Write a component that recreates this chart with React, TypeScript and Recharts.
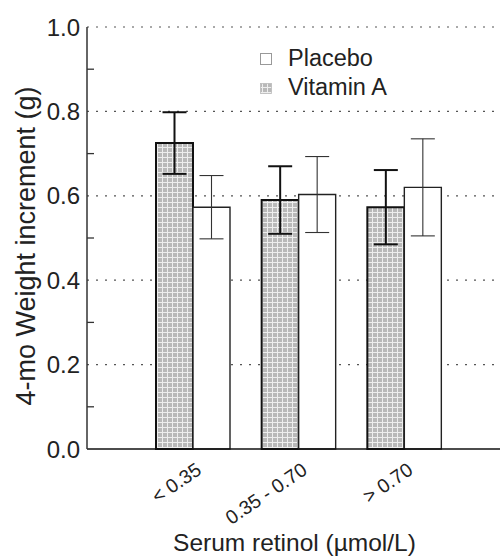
import { BarChart, Bar, XAxis, YAxis, CartesianGrid, ErrorBar, Legend, Label } from 'recharts';

const categories = ['< 0.35', '0.35 - 0.70', '> 0.70'];
const vitaminA = [0.725, 0.59, 0.573];
const vitaminAErr = [0.073, 0.08, 0.088];
const placebo = [0.573, 0.603, 0.62];
const placeboErr = [0.075, 0.09, 0.115];
const yTicks = [0, 0.1, 0.2, 0.3, 0.4, 0.5, 0.6, 0.7, 0.8, 0.9, 1.0];
const gridValues = [0.2, 0.4, 0.6, 0.8, 1.0];

const data = categories.map((c, i) => ({
  group: c,
  vitA: vitaminA[i],
  vitAErr: vitaminAErr[i],
  placebo: placebo[i],
  placeboErr: placeboErr[i],
}));

const FONT = '"Liberation Sans", Arial, Helvetica, sans-serif';
const W = 500;
const H = 557;
const AXIS_X = 87;
const PLOT_TOP = 27;
const X_AXIS_H = 108;
const PLOT_BOTTOM = H - X_AXIS_H;

const YTick = (props: any) => {
  const { y, payload } = props;
  const v = payload.value as number;
  const major = Math.round(v * 10) % 2 === 0;
  if (major) {
    return (
      <text x={AXIS_X - 7} y={y} dy="0.36em" textAnchor="end" fontSize={24} fill="#222" fontFamily={FONT}>
        {v.toFixed(1)}
      </text>
    );
  }
  return <line x1={AXIS_X} x2={AXIS_X + 7} y1={y} y2={y} stroke="#333" strokeWidth={1.3} />;
};

const XTick = (props: any) => {
  const { x, payload } = props;
  const tx = x + 10;
  const ty = PLOT_BOTTOM + 24;
  return (
    <text
      x={tx}
      y={ty}
      textAnchor="end"
      fontSize={19.5}
      fill="#222"
      fontFamily={FONT}
      transform={`rotate(-34, ${tx}, ${ty})`}
    >
      {payload.value}
    </text>
  );
};

const LegendBox = () => (
  <svg width={200} height={70} style={{ overflow: 'visible' }}>
    <rect x={5.5} y={13.5} width={11} height={11} fill="#fff" stroke="#999" strokeWidth={1} />
    <text x={33} y={25.5} fontSize={23.5} fill="#222" fontFamily={FONT}>Placebo</text>
    <rect x={5.5} y={43.5} width={11} height={10} fill="url(#stipple)" stroke="#bbb" strokeWidth={0.8} />
    <text x={33} y={55} fontSize={23.5} fill="#222" fontFamily={FONT}>Vitamin A</text>
  </svg>
);

export default function App() {
  return (
    <div style={{ width: W, height: H, background: '#fff' }}>
      <style>{`body{margin:0}`}</style>
      <svg width={0} height={0} style={{ position: 'absolute' }}>
        <defs>
          <pattern id="stipple" width={5} height={5} patternUnits="userSpaceOnUse">
            <rect x={0} y={0} width={5} height={5} fill="#b9b9b9" />
            <rect x={2} y={0} width={1} height={5} fill="#eeeeee" />
            <rect x={0} y={2} width={5} height={1} fill="#eeeeee" />
          </pattern>
        </defs>
      </svg>
      <BarChart
        width={W}
        height={H}
        data={data}
        margin={{ top: PLOT_TOP, right: 0, bottom: 0, left: 0 }}
        barGap={0}
        barSize={37}
      >
        <CartesianGrid
          vertical={false}
          horizontalValues={gridValues}
          stroke="#555"
          strokeWidth={1.2}
          strokeDasharray="2 7"
        />
        <XAxis
          dataKey="group"
          height={X_AXIS_H}
          padding={{ left: 53, right: 43 }}
          tickLine={false}
          axisLine={{ stroke: '#111', strokeWidth: 1.6 }}
          tick={<XTick />}
          interval={0}
        >
          <Label
            content={() => (
              <text x={294.5} y={551} textAnchor="middle" fontSize={24.5} fill="#222" fontFamily={FONT}>
                Serum retinol (µmol/L)
              </text>
            )}
          />
        </XAxis>
        <YAxis
          width={AXIS_X}
          domain={[0, 1]}
          ticks={yTicks}
          interval={0}
          tickLine={false}
          axisLine={{ stroke: '#333', strokeWidth: 1.5 }}
          tick={<YTick />}
        >
          <Label
            content={() => (
              <text
                x={0}
                y={0}
                textAnchor="middle"
                fontSize={27}
                fill="#222"
                fontFamily={FONT}
                transform="translate(35, 246) rotate(-90)"
              >
                4-mo Weight increment (g)
              </text>
            )}
          />
        </YAxis>
        <Legend
          layout="horizontal"
          verticalAlign="middle"
          align="center"
          wrapperStyle={{ position: 'absolute', left: 255, top: 40, width: 200 }}
          content={() => <LegendBox />}
        />
        <Bar dataKey="vitA" name="Vitamin A" fill="url(#stipple)" stroke="#111" strokeWidth={2} isAnimationActive={false}>
          <ErrorBar dataKey="vitAErr" width={12} stroke="#111" strokeWidth={2} />
        </Bar>
        <Bar dataKey="placebo" name="Placebo" fill="#fff" stroke="#222" strokeWidth={1.4} isAnimationActive={false}>
          <ErrorBar dataKey="placeboErr" width={12} stroke="#333" strokeWidth={1.1} />
        </Bar>
      </BarChart>
    </div>
  );
}
